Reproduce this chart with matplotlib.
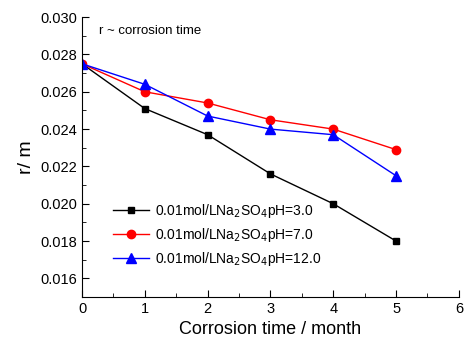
import matplotlib.pyplot as plt
from matplotlib.ticker import MultipleLocator

plt.rcParams['font.family'] = ['Liberation Sans', 'DejaVu Sans']

months = [0, 1, 2, 3, 4, 5]
r_ph3 = [0.0275, 0.0251, 0.0237, 0.0216, 0.0200, 0.0180]
r_ph7 = [0.0275, 0.0260, 0.0254, 0.0245, 0.0240, 0.0229]
r_ph12 = [0.0275, 0.0264, 0.0247, 0.0240, 0.0237, 0.0215]
labels = ['0.01mol/LNa$_2$SO$_4$pH=3.0',
          '0.01mol/LNa$_2$SO$_4$pH=7.0',
          '0.01mol/LNa$_2$SO$_4$pH=12.0']

fig = plt.figure(figsize=(4.67, 3.43), dpi=100)
ax = fig.add_axes([0.1756, 0.134, 0.807, 0.816])

ax.plot(months, r_ph3, color='black', marker='s', markersize=5, linewidth=1, label=labels[0])
ax.plot(months, r_ph7, color='red', marker='o', markersize=6, linewidth=1, label=labels[1])
ax.plot(months, r_ph12, color='blue', marker='^', markersize=6.5, linewidth=1, label=labels[2])

ax.set_xlim(0, 6)
ax.set_ylim(0.015, 0.030)
ax.xaxis.set_major_locator(MultipleLocator(1))
ax.xaxis.set_minor_locator(MultipleLocator(0.5))
ax.yaxis.set_minor_locator(MultipleLocator(0.001))
ax.set_yticks([0.016, 0.018, 0.020, 0.022, 0.024, 0.026, 0.028, 0.030])
ax.yaxis.set_major_formatter(plt.FuncFormatter(lambda v, p: '%.3f' % v))

ax.spines['top'].set_visible(False)
ax.spines['right'].set_visible(False)
ax.tick_params(direction='in', which='both', labelsize=10.5)
ax.tick_params(which='major', length=5)
ax.tick_params(which='minor', length=3)

ax.set_xlabel('Corrosion time / month', fontsize=13)
ax.set_ylabel('r/ m', fontsize=14)
ax.text(0.045, 0.95, 'r ~ corrosion time', transform=ax.transAxes, fontsize=9.5, va='center')

ax.legend(loc='lower left', bbox_to_anchor=(0.05, 0.06), frameon=False, fontsize=10,
          handlelength=2.6, labelspacing=0.42, handletextpad=0.4)

fig.savefig('out.png')
